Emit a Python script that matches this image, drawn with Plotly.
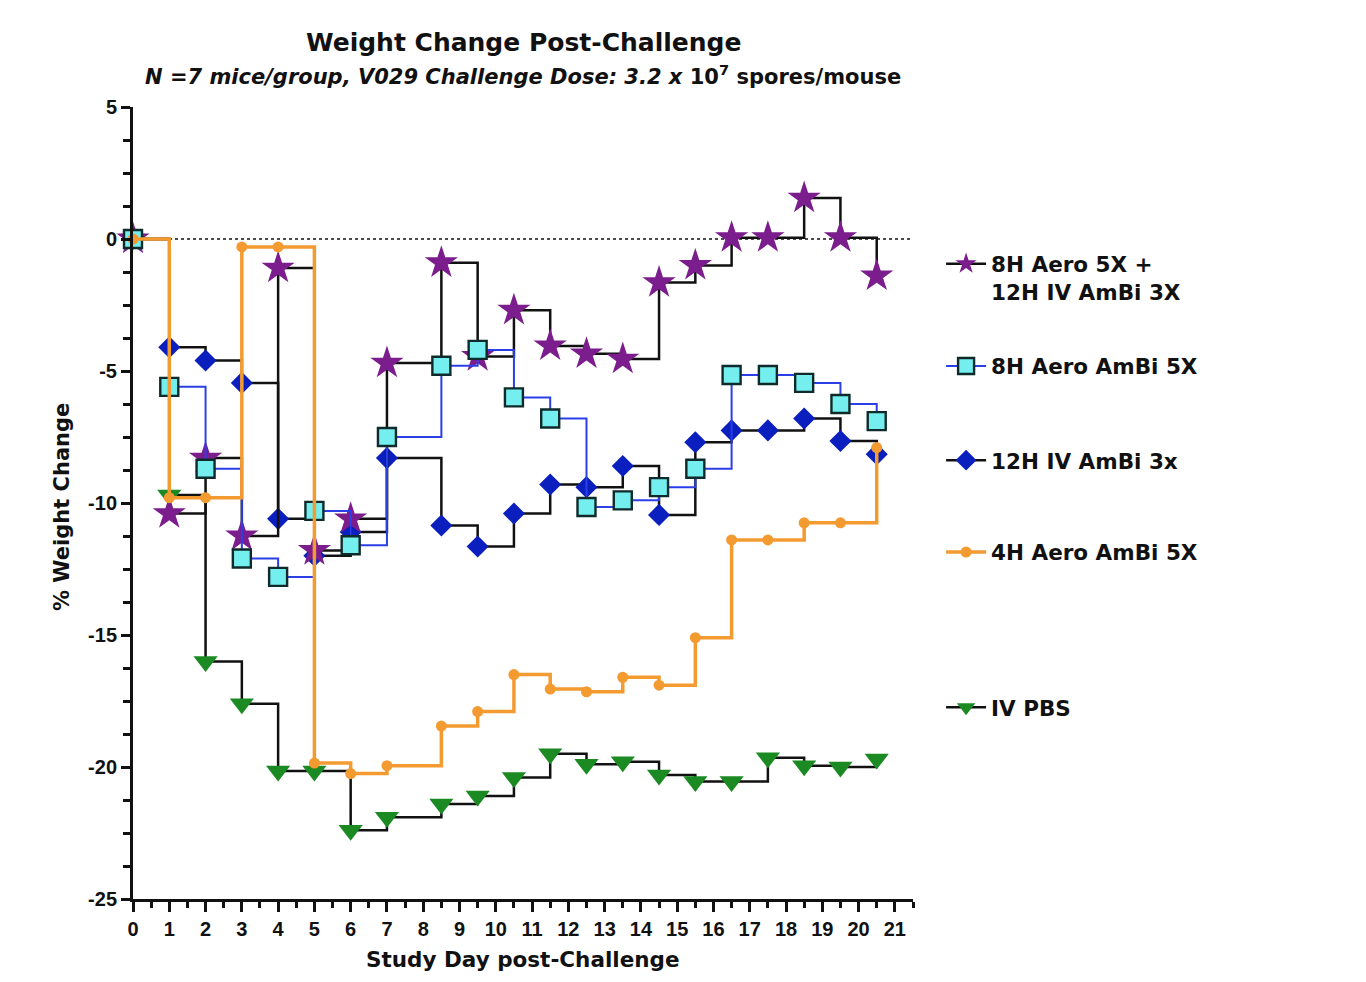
import plotly.graph_objects as go

# ---------------- data ----------------
days = [0, 1, 2, 3, 4, 5, 6, 7, 8.5, 9.5, 10.5, 11.5, 12.5, 13.5, 14.5, 15.5, 16.5, 17.5, 18.5, 19.5, 20.5]

combo_8h_aero_12h_iv = [0, -10.4, -8.3, -11.25, -1.1, -11.8, -10.6, -4.7, -0.9, -4.45, -2.7, -4.05,
                        -4.35, -4.55, -1.65, -1.0, 0.05, 0.05, 1.55, 0.05, -1.4]
aero_8h = [0, -5.6, -8.7, -12.1, -12.8, -10.3, -11.6, -7.5, -4.8, -4.2, -6.0, -6.8,
           -10.15, -9.9, -9.4, -8.7, -5.15, -5.15, -5.45, -6.25, -6.9]
iv_12h = [0, -4.1, -4.6, -5.45, -10.6, -12.0, -11.1, -8.3, -10.85, -11.65, -10.4, -9.3,
          -9.4, -8.6, -10.45, -7.7, -7.25, -7.25, -6.8, -7.65, -8.15]
aero_4h = [0, -9.8, -9.8, -0.3, -0.3, -19.85, -20.25, -19.95, -18.45, -17.9, -16.5, -17.05,
           -17.15, -16.6, -16.9, -15.1, -11.4, -11.4, -10.75, -10.75, -7.9]
iv_pbs = [0, -9.7, -16.0, -17.6, -20.15, -20.15, -22.4, -21.9, -21.4, -21.1, -20.4, -19.5,
          -19.9, -19.8, -20.3, -20.55, -20.55, -19.65, -19.95, -20.0, -19.7]

names = ["8H Aero 5X +<br>12H IV AmBi 3X", "8H Aero AmBi 5X", "12H IV AmBi 3x",
         "4H Aero AmBi 5X", "IV PBS"]

x_ticks = list(range(0, 22))
y_ticks = [5, 0, -5, -10, -15, -20, -25]
y_tick_text = ["5", "0", "-5", "-10", "-15", "-20", "-25"]
baseline = 0

TFONT = "DejaVu Sans"       # wide bold face for titles / legend
NFONT = "Liberation Sans"   # numbers

fig = go.Figure()

# drawing order bottom -> top: PBS, 12H IV, combo, 8H aero, 4H aero
fig.add_trace(go.Scatter(
    x=days, y=iv_pbs, name=names[4], mode="lines+markers", line_shape="hv",
    line=dict(color="#111111", width=2.5),
    marker=dict(symbol="triangle-down", size=21, color="#1b8a22", line=dict(width=0)),
    legend="legend5", cliponaxis=False))
fig.add_trace(go.Scatter(
    x=days, y=iv_12h, name=names[2], mode="lines+markers", line_shape="hv",
    line=dict(color="#111111", width=2.5),
    marker=dict(symbol="diamond", size=17, color="#0a1fbe", line=dict(width=0)),
    legend="legend3", cliponaxis=False))
fig.add_trace(go.Scatter(
    x=days, y=combo_8h_aero_12h_iv, name=names[0], mode="lines+markers", line_shape="hv",
    line=dict(color="#111111", width=2.5),
    marker=dict(symbol="star", size=25, color="#7c1d8d", line=dict(width=0)),
    legend="legend", showlegend=True, cliponaxis=False))
fig.add_trace(go.Scatter(
    x=days, y=aero_8h, name=names[1], mode="lines+markers", line_shape="hv",
    line=dict(color="#2b3fe6", width=2),
    marker=dict(symbol="square", size=18, color="#74eeee", line=dict(width=2.4, color="#0f2a2a")),
    legend="legend2", cliponaxis=False))
fig.add_trace(go.Scatter(
    x=days, y=aero_4h, name=names[3], mode="lines+markers", line_shape="hv",
    line=dict(color="#f39a30", width=3.5),
    marker=dict(symbol="circle", size=11, color="#f39a30", line=dict(width=0)),
    legend="legend4", cliponaxis=False))

# dotted zero reference line
fig.add_shape(type="line", xref="x", yref="y", x0=0, x1=21.5, y0=baseline, y1=baseline,
              line=dict(color="#111111", width=1.6, dash="dot"), layer="below")

leg_common = dict(bgcolor="rgba(0,0,0,0)", borderwidth=0, xanchor="left", itemwidth=40,
                  font=dict(family=TFONT, size=21.5, color="#111111", weight="bold"),
                  itemclick=False, itemdoubleclick=False)
lx = 1.036
fig.update_layout(
    showlegend=True,
    legend=dict(x=lx, y=0.828, yanchor="top", valign="top", **leg_common),
    legend2=dict(x=lx, y=0.673, yanchor="middle", **leg_common),
    legend3=dict(x=lx, y=0.554, yanchor="middle", **leg_common),
    legend4=dict(x=lx, y=0.438, yanchor="middle", **leg_common),
    legend5=dict(x=lx, y=0.242, yanchor="middle", **leg_common),
)

fig.update_xaxes(
    range=[0, 21.5], showgrid=False, zeroline=False,
    showline=True, linewidth=3, linecolor="#111111",
    tickmode="array", tickvals=x_ticks, ticktext=[str(v) for v in x_ticks],
    ticks="outside", ticklen=10, tickwidth=3, tickcolor="#111111",
    minor=dict(dtick=0.5, tick0=0, ticks="outside", ticklen=6, tickwidth=3, tickcolor="#111111"),
    tickfont=dict(family=NFONT, size=20, color="#111111", weight="bold"),
)
fig.update_yaxes(
    range=[-25, 5], showgrid=False, zeroline=False,
    showline=True, linewidth=3, linecolor="#111111",
    tickmode="array", tickvals=y_ticks, ticktext=y_tick_text,
    ticks="outside", ticklen=9, tickwidth=3, tickcolor="#111111",
    minor=dict(dtick=1.25, tick0=0, ticks="outside", ticklen=7, tickwidth=3, tickcolor="#111111"),
    tickfont=dict(family=NFONT, size=20, color="#111111", weight="bold"),
)

annotations = [
    dict(text="<b>Weight Change Post-Challenge</b>", x=0.5, y=1.082, xref="paper", yref="paper",
         showarrow=False, font=dict(family=TFONT, size=25, color="#111111"), xanchor="center", yanchor="middle"),
    dict(text="<b><i>N =7 mice/group, V029 Challenge Dose: 3.2 x</i> 10<sup>7</sup> spores/mouse</b>",
         x=0.5, y=1.040, xref="paper", yref="paper", showarrow=False,
         font=dict(family=TFONT, size=21, color="#111111"), xanchor="center", yanchor="middle"),
    dict(text="<b>Study Day post-Challenge</b>", x=0.5, y=-0.077, xref="paper", yref="paper",
         showarrow=False, font=dict(family=TFONT, size=21.5, color="#111111"), xanchor="center", yanchor="middle"),
    dict(text="<b>% Weight Change</b>", x=-0.091, y=0.495, xref="paper", yref="paper", textangle=-90,
         showarrow=False, font=dict(family=TFONT, size=21, color="#111111"), xanchor="center", yanchor="middle"),
]

# the page body adds an 8px margin, so the figure is sized/offset to compensate
fig.update_layout(
    width=1350, height=966,
    margin=dict(l=125, r=445, t=99, b=75),
    paper_bgcolor="white", plot_bgcolor="white",
    annotations=annotations,
    font=dict(family=NFONT, color="#111111"),
)

fig.write_html("out.html")
